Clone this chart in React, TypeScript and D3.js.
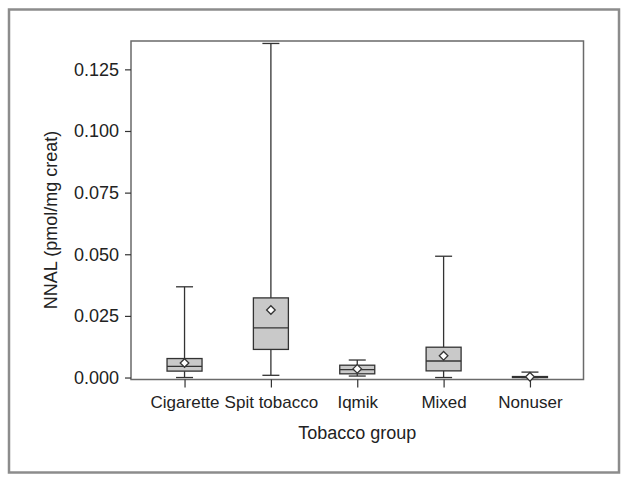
import React, { useEffect, useRef } from 'react';
import * as d3 from 'd3';

// box plot values
const categories = ['Cigarette', 'Spit tobacco', 'Iqmik', 'Mixed', 'Nonuser'];
const whiskerLow = [0, 0.0009, 0.0006, 0, 0];
const q1 = [0.0026, 0.0114, 0.0015, 0.0027, 0];
const median = [0.0045, 0.0201, 0.0032, 0.0067, 0.0001];
const q3 = [0.0077, 0.0323, 0.005, 0.0123, 0.0004];
const whiskerHigh = [0.0368, 0.1355, 0.0071, 0.0492, 0.0022];
const means = [0.0059, 0.0274, 0.0035, 0.0088, 0.0003];
const yTicks = [0, 0.025, 0.05, 0.075, 0.1, 0.125];

const W = 624;
const H = 482;
const FONT = '"Liberation Sans", Arial, sans-serif';

export default function App() {
  const ref = useRef<SVGSVGElement>(null);

  useEffect(() => {
    const svg = d3.select(ref.current);
    svg.selectAll('*').remove();

    const left = 131, right = 583.5, top = 41, bottom = 379.5;

    const x = d3.scalePoint<string>().domain(categories).range([left, right]).padding(0.62);
    const y = d3.scaleLinear().domain([-0.0008, 0.1365]).range([bottom, top]);

    // outer frame
    svg.append('rect')
      .attr('x', 9).attr('y', 9.5).attr('width', 610).attr('height', 463)
      .attr('fill', 'white').attr('stroke', '#8c8c8c').attr('stroke-width', 2.5);

    // plot frame
    svg.append('rect')
      .attr('x', left).attr('y', top).attr('width', right - left).attr('height', bottom - top)
      .attr('fill', 'none').attr('stroke', '#6a6a6a').attr('stroke-width', 1.5);

    // y axis
    const yAxis = svg.append('g')
      .attr('transform', `translate(${left},0)`)
      .call(d3.axisLeft(y).tickValues(yTicks).tickFormat(d3.format('.3f')).tickSize(6).tickPadding(6));
    yAxis.select('.domain').remove();
    yAxis.selectAll('line').attr('stroke', '#333').attr('stroke-width', 1.2);
    yAxis.selectAll('text').attr('font-family', FONT).attr('font-size', 18).attr('fill', '#222');

    // x axis
    const xAxis = svg.append('g')
      .attr('transform', `translate(0,${bottom})`)
      .call(d3.axisBottom(x).tickSize(8).tickPadding(8));
    xAxis.select('.domain').remove();
    xAxis.selectAll('line').attr('stroke', '#333').attr('stroke-width', 1.2);
    xAxis.selectAll('text').attr('font-family', FONT).attr('font-size', 17).attr('fill', '#222');

    // axis titles
    svg.append('text')
      .attr('x', (left + right) / 2).attr('y', 439)
      .attr('text-anchor', 'middle')
      .attr('font-family', FONT).attr('font-size', 18).attr('fill', '#222')
      .text('Tobacco group');
    svg.append('text')
      .attr('transform', 'translate(57,220) rotate(-90)')
      .attr('text-anchor', 'middle')
      .attr('font-family', FONT).attr('font-size', 18).attr('fill', '#222')
      .text('NNAL (pmol/mg creat)');

    const boxW = 35;
    const capW = 17;
    const g = svg.append('g').attr('stroke', '#333').attr('stroke-width', 1.3);

    categories.forEach((c, i) => {
      const cx = x(c) as number;
      // whiskers
      g.append('line').attr('x1', cx).attr('x2', cx).attr('y1', y(whiskerHigh[i])).attr('y2', y(q3[i]));
      g.append('line').attr('x1', cx).attr('x2', cx).attr('y1', y(q1[i])).attr('y2', y(whiskerLow[i]));
      g.append('line').attr('x1', cx - capW / 2).attr('x2', cx + capW / 2).attr('y1', y(whiskerHigh[i])).attr('y2', y(whiskerHigh[i]));
      g.append('line').attr('x1', cx - capW / 2).attr('x2', cx + capW / 2).attr('y1', y(whiskerLow[i])).attr('y2', y(whiskerLow[i]));
      // box
      g.append('rect')
        .attr('x', cx - boxW / 2).attr('y', y(q3[i]))
        .attr('width', boxW).attr('height', Math.max(1, y(q1[i]) - y(q3[i])))
        .attr('fill', '#c9c9c9');
      g.append('line').attr('x1', cx - boxW / 2).attr('x2', cx + boxW / 2).attr('y1', y(median[i])).attr('y2', y(median[i]));
      // mean diamond
      const my = y(means[i]);
      const s = 4.3;
      g.append('path')
        .attr('d', `M${cx},${my - s}L${cx + s},${my}L${cx},${my + s}L${cx - s},${my}Z`)
        .attr('fill', 'white');
    });
  }, []);

  return (
    <svg ref={ref} width={W} height={H} style={{ position: 'absolute', left: 0, top: 0 }} />
  );
}
